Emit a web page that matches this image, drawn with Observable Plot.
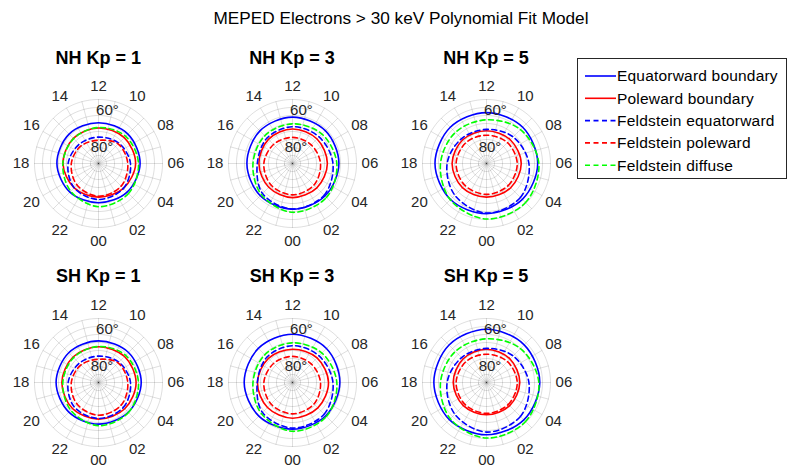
<!DOCTYPE html>
<html><head><meta charset="utf-8">
<script src="https://cdn.jsdelivr.net/npm/d3@7"></script>
<script src="https://cdn.jsdelivr.net/npm/@observablehq/plot@0.6"></script>
<style>
body{margin:0;background:#fff;}
#root{position:relative;width:792px;height:471px;overflow:hidden;font-family:"Liberation Sans",Arial,sans-serif;background:#fff;}
.panel{position:absolute;}
.ptitle{position:absolute;transform:translate(-50%,-50%);font-weight:bold;font-size:18px;white-space:nowrap;color:#000;line-height:1;}
#title{position:absolute;left:401px;top:19px;transform:translate(-50%,-50%);font-size:17.2px;white-space:nowrap;color:#000;line-height:1;}
#legend{position:absolute;left:577px;top:58px;width:210px;height:121px;box-sizing:border-box;border:1px solid #262626;background:#fff;}
#legend svg{overflow:visible;}
</style></head><body><div id="root"><div id="title">MEPED Electrons &gt; 30 keV Polynomial Fit Model</div></div>
<script>
// Magnetic local time (hours) at which the boundaries were read
const mlt = [0, 3, 6, 9, 12, 15, 18, 21];
// Angular tick labels (MLT hours) and radial rings (magnetic latitude)
const hourTicks = [0, 2, 4, 6, 8, 10, 12, 14, 16, 18, 20, 22];
const hourLabels = ["00", "02", "04", "06", "08", "10", "12", "14", "16", "18", "20", "22"];
const ringLats = [85, 80, 75, 70, 65, 60, 55, 50];
const spokeHours = d3.range(0, 24, 1);
const rLabelLats = [60, 80];
const rLabelTexts = ["60°", "80°"];

// Latitudes (deg) of boundaries at the MLTs above
const nhKp1Eq  = [65.5, 64.7, 64.0, 64.0, 64.5, 64.0, 64.0, 64.7];
const nhKp1Pol = [69.0, 68.0, 66.8, 67.2, 67.8, 67.8, 67.8, 68.5];
const nhKp3Eq  = [61.5, 61.3, 61.0, 61.0, 61.0, 61.2, 61.5, 61.5];
const nhKp3Pol = [68.7, 68.5, 68.2, 68.3, 68.4, 68.7, 69.0, 69.0];
const nhKp5Eq  = [58.7, 58.3, 58.0, 58.0, 58.2, 58.0, 57.8, 58.2];
const nhKp5Pol = [69.0, 68.6, 68.3, 69.0, 69.5, 69.0, 68.5, 68.7];
const shKp1Eq  = [64.0, 63.7, 63.3, 63.5, 64.0, 63.7, 63.5, 63.8];
const shKp1Pol = [67.1, 66.8, 66.5, 67.0, 67.7, 67.5, 67.1, 67.0];
const shKp3Eq  = [60.8, 60.6, 60.4, 60.0, 59.8, 59.8, 59.8, 60.3];
const shKp3Pol = [67.7, 67.6, 67.5, 68.3, 69.2, 68.7, 68.1, 67.9];
const shKp5Eq  = [57.3, 57.0, 56.7, 56.7, 56.7, 56.9, 57.1, 57.2];
const shKp5Pol = [69.8, 69.5, 69.2, 69.2, 69.2, 69.2, 69.2, 69.5];
// Feldstein oval (same in both hemispheres)
const feldKp1Eq  = [67.5, 68.0, 70.0, 72.0, 73.5, 73.0, 71.0, 68.5];
const feldKp1Pol = [69.5, 70.0, 71.7, 72.7, 75.5, 74.5, 73.0, 71.0];
const feldKp1Dif = [63.0, 63.5, 65.0, 66.0, 67.5, 68.0, 67.7, 65.5];
const feldKp3Eq  = [61.5, 62.0, 64.7, 66.5, 67.0, 67.5, 68.0, 63.5];
const feldKp3Pol = [70.4, 71.0, 72.5, 73.5, 73.7, 73.2, 72.1, 71.0];
const feldKp3Dif = [59.5, 60.0, 62.3, 64.0, 65.2, 65.5, 65.3, 62.5];
const feldKp5Eq  = [59.0, 60.0, 63.5, 66.5, 68.7, 68.0, 65.4, 62.0];
const feldKp5Pol = [70.7, 70.7, 70.8, 71.5, 72.3, 71.7, 71.0, 70.8];
const feldKp5Dif = [55.3, 55.5, 57.3, 60.0, 62.7, 62.5, 61.25, 58.0];

const seriesNames = ["Equatorward boundary", "Poleward boundary", "Feldstein equatorward", "Feldstein poleward", "Feldstein diffuse"];
const seriesColors = ["#0000ff", "#ff0000", "#0000ff", "#ff0000", "#00ff00"];
const seriesDash = [null, null, "5,3.5", "5,3.5", "5,3.5"];

const panels = [
  {title: "NH Kp = 1", series: [nhKp1Eq, nhKp1Pol, feldKp1Eq, feldKp1Pol, feldKp1Dif], cx: 98.3, cy: 163.3},
  {title: "NH Kp = 3", series: [nhKp3Eq, nhKp3Pol, feldKp3Eq, feldKp3Pol, feldKp3Dif], cx: 292, cy: 163.3},
  {title: "NH Kp = 5", series: [nhKp5Eq, nhKp5Pol, feldKp5Eq, feldKp5Pol, feldKp5Dif], cx: 486, cy: 163.3},
  {title: "SH Kp = 1", series: [shKp1Eq, shKp1Pol, feldKp1Eq, feldKp1Pol, feldKp1Dif], cx: 98.3, cy: 381.7},
  {title: "SH Kp = 3", series: [shKp3Eq, shKp3Pol, feldKp3Eq, feldKp3Pol, feldKp3Dif], cx: 292, cy: 381.7},
  {title: "SH Kp = 5", series: [shKp5Eq, shKp5Pol, feldKp5Eq, feldKp5Pol, feldKp5Dif], cx: 486, cy: 381.7}
];

const root = document.getElementById("root");
const grid = {stroke: "#262626", strokeOpacity: 0.15, strokeWidth: 1, fill: "none"};
const SIZE = 194, M = 33;

for (const p of panels) {
  const marks = [
    Plot.geo(ringLats.map(l => d3.geoCircle().center([0, 90]).radius(90 - l)()), grid),
    Plot.geo(spokeHours.map(h => ({type: "LineString", coordinates: [[h * 15, 50], [h * 15, 90]]})), grid),
    Plot.text(hourTicks, {x: d => d * 15, y: () => 41.6, text: (d, i) => hourLabels[i], fontSize: 15, fill: "#262626"})
  ];
  p.series.forEach((vals, si) => {
    const rows = mlt.map((h, i) => ({mlt: h, lat: vals[i]}));
    marks.push(Plot.line(rows, {
      x: d => d.mlt * 15, y: "lat", curve: "catmull-rom-closed",
      stroke: seriesColors[si], strokeWidth: 1.6,
      strokeDasharray: seriesDash[si] || undefined
    }));
  });
  marks.push(Plot.text(rLabelLats, {
    x: (d, i) => i === 0 ? 170.5 : 167.7,
    y: (d, i) => i === 0 ? 56.2 : 79.8,
    text: (d, i) => rLabelTexts[i], fontSize: 15, fill: "#262626"
  }));
  const chart = Plot.plot({
    width: SIZE, height: SIZE,
    marginTop: M, marginBottom: M, marginLeft: M, marginRight: M,
    projection: {type: "azimuthal-equidistant", rotate: [0, -90], clip: false,
                 domain: d3.geoCircle().center([0, 90]).radius(40)()},
    style: {fontFamily: "Liberation Sans, Arial, sans-serif", background: "transparent", overflow: "visible"},
    marks
  });
  chart.classList.add("panel");
  chart.style.left = (p.cx - SIZE / 2) + "px";
  chart.style.top = (p.cy - SIZE / 2) + "px";
  root.appendChild(chart);
  const t = document.createElement("div");
  t.className = "ptitle";
  t.textContent = p.title;
  t.style.left = p.cx + "px";
  t.style.top = (p.cy - 105.5) + "px";
  root.appendChild(t);
}

// Legend
const leg = document.createElement("div");
leg.id = "legend";
root.appendChild(leg);
const lsvg = d3.select(leg).append("svg").attr("width", 208).attr("height", 119)
  .style("font-family", "Liberation Sans, Arial, sans-serif");
seriesNames.forEach((name, i) => {
  const y = 17 + i * 22.3;
  lsvg.append("line").attr("x1", 7).attr("x2", 38).attr("y1", y).attr("y2", y)
    .attr("stroke", seriesColors[i]).attr("stroke-width", 1.6)
    .attr("stroke-dasharray", seriesDash[i]);
  lsvg.append("text").attr("x", 39).attr("y", y).attr("dy", "0.35em")
    .attr("font-size", 15.5).attr("letter-spacing", "0.2px").attr("fill", "#000").text(name);
});
</script></body></html>
